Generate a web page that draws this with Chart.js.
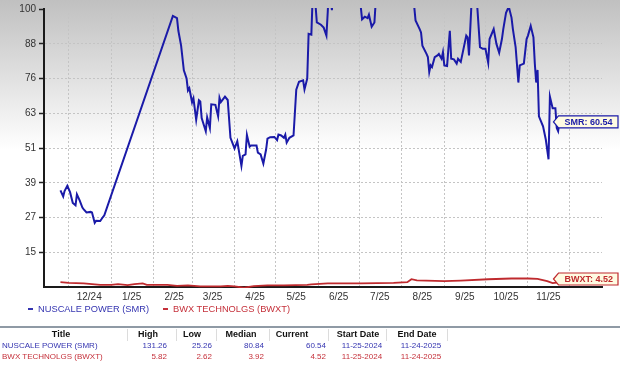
<!DOCTYPE html>
<html><head><meta charset="utf-8">
<script src="https://cdn.jsdelivr.net/npm/chart.js@4.4.1/dist/chart.umd.min.js"></script>
<style>
html,body{margin:0;padding:0;}
body{width:620px;height:369px;position:relative;overflow:hidden;background:#fff linear-gradient(to bottom,#c0c0c0 0px,#ffffff 150px) no-repeat;background-size:620px 150px;font-family:"Liberation Sans",Arial,sans-serif;}
#wrap{position:absolute;left:0;top:0;width:620px;height:304px;}
.lg{position:absolute;top:303px;font-size:9.3px;line-height:12px;white-space:nowrap;}
.lg i{display:inline-block;width:5px;height:2px;vertical-align:middle;margin-right:5px;position:relative;top:-1px;}
#sep{position:absolute;left:0;top:326px;width:620px;height:2px;background:#8f9aa5;}
.c{position:absolute;white-space:nowrap;font-size:8px;line-height:10px;}
.h{font-weight:bold;font-size:9px;color:#111;}
.vd{position:absolute;top:329px;width:1px;height:12px;background:#dcdcdc;}
</style></head>
<body>
<div id="wrap"><canvas id="c" width="620" height="304"></canvas></div>
<div id="legend"></div>
<div id="sep"></div>
<div id="table"></div>
<script>
// ---- data ----
const seriesNames = ['NUSCALE POWER (SMR)', 'BWX TECHNOLGS (BWXT)'];
const seriesShort = ['SMR', 'BWXT'];

const smrDates = ['2024-11-25','2024-11-27','2024-11-28','2024-11-30','2024-12-02','2024-12-04','2024-12-06','2024-12-07','2024-12-09','2024-12-11','2024-12-12','2024-12-14','2024-12-17','2024-12-18','2024-12-20','2024-12-21','2024-12-24','2024-12-26','2024-12-27',
'2025-02-15','2025-02-18','2025-02-19','2025-02-21','2025-02-23','2025-02-25','2025-02-26','2025-02-27','2025-03-01','2025-03-02','2025-03-04','2025-03-06','2025-03-07','2025-03-08','2025-03-11','2025-03-12','2025-03-14','2025-03-15','2025-03-18','2025-03-20','2025-03-21','2025-03-22','2025-03-25','2025-03-27','2025-03-29',
'2025-04-01','2025-04-03','2025-04-06','2025-04-07','2025-04-09','2025-04-10','2025-04-12','2025-04-13','2025-04-17','2025-04-18','2025-04-20','2025-04-22','2025-04-24','2025-04-25','2025-04-27','2025-04-30',
'2025-05-02','2025-05-03','2025-05-05','2025-05-07','2025-05-08','2025-05-09','2025-05-11','2025-05-14','2025-05-16','2025-05-18','2025-05-21','2025-05-22','2025-05-24','2025-05-25','2025-05-27','2025-05-28','2025-05-29','2025-05-31',
'2025-06-03','2025-06-05','2025-06-07','2025-06-08','2025-06-09','2025-06-10','2025-06-11','2025-06-12','2025-06-16','2025-06-20','2025-06-24','2025-06-28',
'2025-07-01','2025-07-02','2025-07-03','2025-07-05','2025-07-07','2025-07-08','2025-07-10','2025-07-12','2025-07-13','2025-07-17','2025-07-21','2025-07-25','2025-07-29',
'2025-08-02','2025-08-06','2025-08-10','2025-08-11','2025-08-14','2025-08-15','2025-08-16','2025-08-19','2025-08-20','2025-08-21','2025-08-22','2025-08-23','2025-08-25','2025-08-27','2025-08-28','2025-08-30','2025-08-31',
'2025-09-01','2025-09-03','2025-09-05','2025-09-06','2025-09-08','2025-09-10','2025-09-11','2025-09-13','2025-09-17','2025-09-18','2025-09-19','2025-09-21','2025-09-23','2025-09-25','2025-09-27','2025-09-29',
'2025-10-01','2025-10-03','2025-10-04','2025-10-07','2025-10-09','2025-10-11','2025-10-13','2025-10-14','2025-10-16','2025-10-18','2025-10-20','2025-10-21','2025-10-23','2025-10-25','2025-10-26','2025-10-29','2025-10-31',
'2025-11-01','2025-11-03','2025-11-05','2025-11-06','2025-11-07','2025-11-08','2025-11-09','2025-11-12','2025-11-14','2025-11-16','2025-11-17','2025-11-19','2025-11-21','2025-11-22','2025-11-23','2025-11-24'];
const smrValues = [36.6,34.5,36.4,38.2,36.0,32.2,31.4,35.2,33.1,30.6,30.0,28.9,29.1,28.9,25.26,26.0,25.9,27.3,27.9,
97.6,96.8,92.4,87.2,78.6,75.7,71.5,72.3,67.4,68.8,61.3,68.1,67.7,61.9,57.3,62.1,58.4,66.7,66.5,62.5,69.0,67.5,69.4,68.2,55.0,
51.3,53.8,45.2,48.7,49.2,56.0,51.9,52.3,52.3,49.8,49.2,46.0,50.9,54.7,55.2,55.3,
54.2,56.1,55.8,55.0,56.1,53.3,55.0,55.8,71.8,74.6,75.1,71.9,75.7,91.3,91.0,105,108,95.3,
94.5,93.5,90.7,99.3,110,104,99.6,108,118,114,124,119,
108,101,96.4,97.3,96.8,98.0,93.8,95.3,103,115,122,131.26,124,
117,110,101,96.0,93.0,91.8,87.2,84.3,83.2,78.0,80.3,79.7,83.2,83.8,84.3,82.6,84.9,
80.3,80.1,92.4,82.6,82.4,80.9,82.6,81.5,90.7,90.1,83.8,104,108,101,86.7,86.1,
86.1,81.2,89.5,93.0,87.8,84.7,89.5,93.0,98.7,100.8,97.0,93.0,86.7,74.3,80.3,80.9,89.5,
90.7,94.1,90.1,80.9,74.3,78.7,62.5,59.0,54.4,47.5,69.4,65.3,65.3,58.4,57.3,60.54];

const bwxtDates = ['2024-11-25','2024-12-01','2024-12-12','2024-12-24','2025-01-01','2025-01-06','2025-01-13','2025-01-18','2025-01-24','2025-01-27','2025-02-11','2025-02-18','2025-02-26','2025-03-07','2025-03-22','2025-03-27','2025-04-01','2025-04-08','2025-04-15','2025-04-25','2025-05-07','2025-05-24','2025-05-27','2025-06-08','2025-07-02','2025-07-26','2025-08-05','2025-08-08','2025-08-12','2025-09-01','2025-09-13','2025-10-03','2025-10-20','2025-11-01','2025-11-08','2025-11-15','2025-11-19','2025-11-24'];
const bwxtValues = [4.54,4.30,4.10,3.60,3.60,3.85,3.50,3.85,4.10,3.60,3.60,3.25,3.40,3.05,3.05,3.25,3.05,2.62,3.15,3.40,3.40,3.60,3.75,4.10,4.10,4.30,4.54,5.57,5.20,4.90,5.10,5.57,5.82,5.82,5.70,4.90,4.20,4.52];

const xTickDates = ['2024-12-01','2025-01-01','2025-02-01','2025-03-01','2025-04-01','2025-05-01','2025-06-01','2025-07-01','2025-08-01','2025-09-01','2025-10-01','2025-11-01','2025-12-01'];
const xTickLabels = ['12/24','1/25','2/25','3/25','4/25','5/25','6/25','7/25','8/25','9/25','10/25','11/25',''];
const xAxisStart = '2024-11-13';
const xAxisEnd = '2025-12-25';

const yTickLabels = ['15','27','39','51','63','76','88','100'];
const yAxisMin = 2.857;
const yAxisMax = 100;

const tableHeaders = ['Title','High','Low','Median','Current','Start Date','End Date'];
const seriesHigh = ['131.26','5.82'];
const seriesLow = ['25.26','2.62'];
const seriesMedian = ['80.84','3.92'];
const seriesCurrent = ['60.54','4.52'];
const seriesStart = ['11-25-2024','11-25-2024'];
const seriesEnd = ['11-24-2025','11-24-2025'];

// ---- styling ----
const lineColors = ['#1a1aa8', '#bf2a2e'];
const textColors = ['#3434b0', '#c5303a'];
const DAY = 86400000;
const toDay = s => Date.parse(s) / DAY;
const yStep = (yAxisMax - yAxisMin) / 8;
const yTickValues = yTickLabels.map((_, i) => yAxisMin + yStep * (i + 1));

const calloutPlugin = {
  id: 'callout',
  afterDraw(chart) {
    const {ctx, chartArea, scales} = chart;
    chart.data.datasets.forEach((ds, i) => {
      const last = ds.data[ds.data.length - 1];
      const h = 12;
      let y = scales.y.getPixelForValue(last.y);
      y = Math.min(y, chartArea.bottom - h / 2 - 2);
      const tip = scales.x.getPixelForValue(last.x) - 6;
      const bx = tip + 5, right = 618;
      ctx.save();
      ctx.beginPath();
      ctx.moveTo(tip, y);
      ctx.lineTo(bx, y - h / 2);
      ctx.lineTo(right, y - h / 2);
      ctx.lineTo(right, y + h / 2);
      ctx.lineTo(bx, y + h / 2);
      ctx.closePath();
      ctx.fillStyle = '#fffbe2';
      ctx.fill();
      ctx.lineWidth = 1.2;
      ctx.strokeStyle = lineColors[i];
      ctx.stroke();
      ctx.fillStyle = lineColors[i];
      ctx.font = 'bold 9px "Liberation Sans", Arial, sans-serif';
      ctx.textBaseline = 'middle';
      ctx.textAlign = 'left';
      ctx.fillText(seriesShort[i] + ': ' + last.y.toFixed(2), bx + 6, y + 0.5);
      ctx.restore();
    });
  }
};

const datasets = [
  {label: seriesNames[0], data: smrDates.map((d, i) => ({x: toDay(d), y: smrValues[i]}))},
  {label: seriesNames[1], data: bwxtDates.map((d, i) => ({x: toDay(d), y: bwxtValues[i]}))}
].map((ds, i) => Object.assign(ds, {
  borderColor: lineColors[i], borderWidth: i === 0 ? 2 : 1.8, pointRadius: 0, tension: 0, fill: false, clip: 1
}));

const tickFont = {family: '"Liberation Sans", Arial, sans-serif', size: 10};

new Chart(document.getElementById('c'), {
  type: 'line',
  data: {datasets},
  options: {
    responsive: false, animation: false, events: [],
    layout: {autoPadding: false, padding: {top: 5, right: 18, left: 0, bottom: 0}},
    plugins: {legend: {display: false}, tooltip: {enabled: false}},
    scales: {
      x: {
        type: 'linear', min: toDay(xAxisStart), max: toDay(xAxisEnd),
        afterBuildTicks: s => { s.ticks = xTickDates.map(d => ({value: toDay(d)})); },
        afterFit: s => { s.height = 17; },
        ticks: {autoSkip: false, maxRotation: 0, padding: 4, labelOffset: 20.5, color: '#333', font: tickFont,
          callback: (v, i) => xTickLabels[i]},
        grid: {color: '#c4c4c4', drawTicks: false, lineWidth: 1},
        border: {display: true, color: '#1a1a1a', width: 2, dash: [2, 2]}
      },
      y: {
        type: 'linear', min: yAxisMin, max: yAxisMax,
        afterBuildTicks: s => { s.ticks = yTickValues.map(v => ({value: v})); },
        afterFit: s => { s.width = 44; },
        ticks: {autoSkip: false, padding: 3, color: '#333', font: tickFont,
          callback: (v, i) => yTickLabels[i]},
        grid: {color: '#c4c4c4', tickColor: '#222', tickLength: 5, tickWidth: 1.5, tickBorderDash: [], lineWidth: 1},
        border: {display: true, color: '#1a1a1a', width: 2, dash: [2, 2]}
      }
    }
  },
  plugins: [calloutPlugin]
});

// ---- legend ----
const legend = document.getElementById('legend');
[28, 163].forEach((x, i) => {
  const d = document.createElement('div');
  d.className = 'lg';
  d.style.left = x + 'px';
  d.style.color = textColors[i];
  d.innerHTML = '<i style="background:' + textColors[i] + '"></i>';
  d.appendChild(document.createTextNode(seriesNames[i]));
  legend.appendChild(d);
});

// ---- table ----
const table = document.getElementById('table');
function cell(text, x, top, align, cls, color) {
  const d = document.createElement('div');
  d.className = 'c' + (cls ? ' ' + cls : '');
  d.textContent = text;
  d.style.top = top + 'px';
  if (align === 'left') d.style.left = x + 'px';
  else if (align === 'right') d.style.right = (620 - x) + 'px';
  else { d.style.left = (x - 50) + 'px'; d.style.width = '100px'; d.style.textAlign = 'center'; }
  if (color) d.style.color = color;
  table.appendChild(d);
}
const headerCenters = [61, 148, 192, 241, 292, 358, 417];
tableHeaders.forEach((h, i) => cell(h, headerCenters[i], 329, 'center', 'h'));
[127, 176, 216, 269, 328, 386, 447].forEach(x => {
  const v = document.createElement('div'); v.className = 'vd'; v.style.left = x + 'px'; table.appendChild(v);
});
const rowTops = [341, 352];
seriesNames.forEach((n, r) => {
  const t = rowTops[r], col = textColors[r];
  cell(n, 2, t, 'left', '', col);
  cell(seriesHigh[r], 167, t, 'right', '', col);
  cell(seriesLow[r], 212, t, 'right', '', col);
  cell(seriesMedian[r], 264, t, 'right', '', col);
  cell(seriesCurrent[r], 326, t, 'right', '', col);
  cell(seriesStart[r], 362, t, 'center', '', col);
  cell(seriesEnd[r], 421, t, 'center', '', col);
});
</script>
</body></html>
